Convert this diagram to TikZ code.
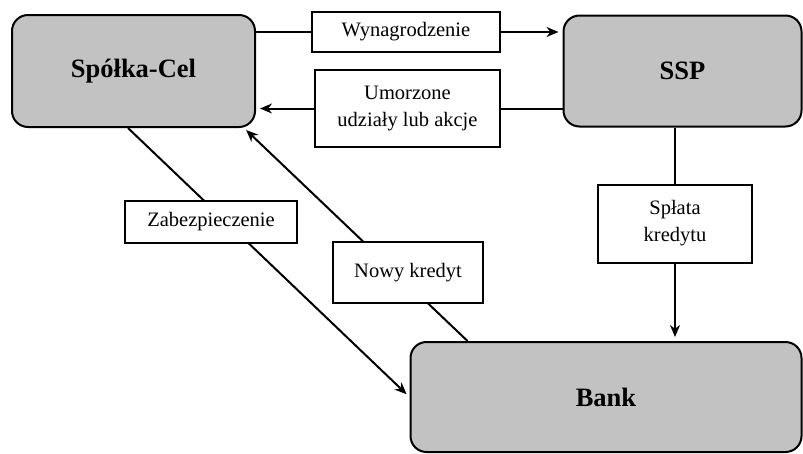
\documentclass[tikz,border=0pt]{standalone}
\usepackage{fontspec}
\setmainfont{Liberation Serif}
\usetikzlibrary{arrows.meta,backgrounds}
\begin{document}
\begin{tikzpicture}[x=1pt,y=-1pt,
  party/.style={draw=black, line width=2pt, rounded corners=16pt, fill=black!24,
    inner sep=0pt, font=\fontsize{26.5}{30}\selectfont\bfseries},
  flowlabel/.style={draw=black, line width=2pt, fill=white, inner sep=0pt,
    align=center, font=\fontsize{20.5}{27}\selectfont},
  flow/.style={line width=2pt, -{Stealth[length=12pt,width=10pt]}, shorten >=4pt}]
\useasboundingbox (0,0) rectangle (803,453);

% parties
\node[party, minimum width=243pt, minimum height=112pt] (spc)  at (133.5,71)  {Spółka-Cel};
\node[party, minimum width=238pt, minimum height=111pt] (ssp)  at (682.5,71)  {SSP};
\node[party, minimum width=391pt, minimum height=110pt] (bank) at (606,397)   {Bank};

% flow labels
\node[flowlabel, minimum width=188pt, minimum height=40pt] (wyn)  at (406,32)      {Wynagrodzenie};
\node[flowlabel, minimum width=185pt, minimum height=77pt] (umo)  at (407.5,108.5) {Umorzone\\udziały lub akcje};
\node[flowlabel, minimum width=172pt, minimum height=42pt] (zab)  at (211,222)     {Zabezpieczenie};
\node[flowlabel, minimum width=150pt, minimum height=61pt] (nowy) at (408,272.5)   {Nowy kredyt};
\node[flowlabel, minimum width=154pt, minimum height=78pt] (spl)  at (675,223.5)   {Spłata\\kredytu};

% page and flows between the parties, passing under their labels
\begin{pgfonlayer}{background}
  \fill[white] (0,0) rectangle (803,453);
  \draw[flow] (spc.east |- wyn.center) -- (ssp.west |- wyn.center);
  \draw[flow] (ssp.west |- umo.center) -- (spc.east |- umo.center);
  \draw[flow] (ssp.south -| spl.center) -- (bank.north -| spl.center);
  \draw[flow] ([xshift=-5.5pt]spc.south) -- (bank.west);
  \draw[flow, shorten >=3pt] ([xshift=58pt]bank.north west) -- ([xshift=-12pt]spc.south east);
\end{pgfonlayer}
\end{tikzpicture}
\end{document}
